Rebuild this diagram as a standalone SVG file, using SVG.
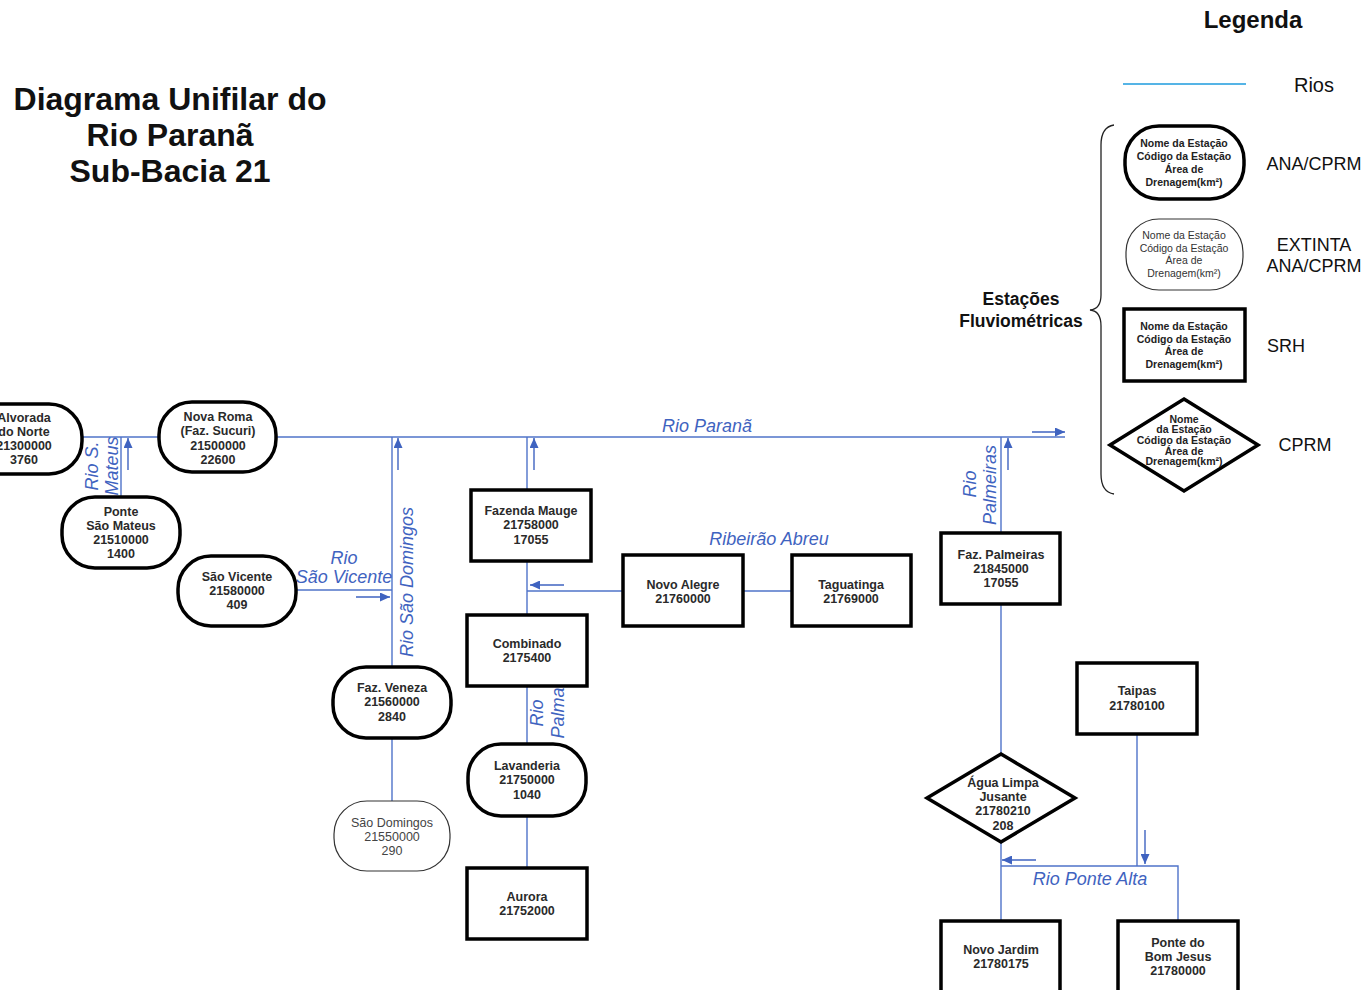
<svg xmlns="http://www.w3.org/2000/svg" width="1368" height="990" viewBox="0 0 1368 990">
<style>
.bg{fill:#ffffff}
.river{stroke:#4f73c9;stroke-width:1.4;fill:none}
.arr{stroke:#3f63c0;stroke-width:1.4;fill:none}
.node{fill:#ffffff;stroke:#000;stroke-width:3.5}
.ext{fill:#ffffff;stroke:#333;stroke-width:1.2}
.nt{font-family:"Liberation Sans",Arial,sans-serif;font-size:12.5px;font-weight:bold;fill:#2a2a2a;text-anchor:middle}
.et{font-family:"Liberation Sans",Arial,sans-serif;font-size:12.5px;fill:#444;text-anchor:middle}
.lt{font-family:"Liberation Sans",Arial,sans-serif;font-size:10.5px;font-weight:bold;fill:#222;text-anchor:middle}
.lte{font-family:"Liberation Sans",Arial,sans-serif;font-size:10.5px;fill:#333;text-anchor:middle}
.rl{font-family:"Liberation Sans",Arial,sans-serif;font-size:18px;font-style:italic;fill:#3f63c0;text-anchor:middle}
.title{font-family:"Liberation Sans",Arial,sans-serif;font-size:32px;font-weight:bold;fill:#111;text-anchor:middle}
.leg{font-family:"Liberation Sans",Arial,sans-serif;font-size:18px;fill:#111;text-anchor:middle}
.legb{font-family:"Liberation Sans",Arial,sans-serif;font-size:17.5px;font-weight:bold;fill:#111;text-anchor:middle}
</style>
<defs>
<marker id="ah" markerUnits="userSpaceOnUse" markerWidth="10" markerHeight="9" refX="10" refY="4.5" orient="auto">
<path d="M0,0 L10,4.5 L0,9 z" fill="#3f63c0"/>
</marker>
</defs>
<rect class="bg" x="0" y="0" width="1368" height="990"/>

<g id="title">
<text class="title" x="170" y="110">Diagrama Unifilar do</text>
<text class="title" x="170" y="146">Rio Paranã</text>
<text class="title" x="170" y="182">Sub-Bacia 21</text>
</g>

<g id="connectors">
<line class="river" x1="82" y1="437" x2="1065" y2="437"/>
<line class="river" x1="121" y1="437" x2="121" y2="497"/>
<line class="river" x1="392" y1="437" x2="392" y2="667"/>
<line class="river" x1="296" y1="590" x2="392" y2="590"/>
<line class="river" x1="392" y1="738" x2="392" y2="801"/>
<line class="river" x1="527" y1="437" x2="527" y2="868"/>
<line class="river" x1="527" y1="591" x2="623" y2="591"/>
<line class="river" x1="743" y1="591" x2="792" y2="591"/>
<line class="river" x1="1001" y1="437" x2="1001" y2="921"/>
<polyline class="river" points="1001,866 1178,866 1178,921"/>
<line class="river" x1="1137" y1="734" x2="1137" y2="866"/>

<line class="arr" x1="1032" y1="432" x2="1065" y2="432" marker-end="url(#ah)"/>
<line class="arr" x1="128" y1="470" x2="128" y2="438" marker-end="url(#ah)"/>
<line class="arr" x1="398" y1="470" x2="398" y2="438" marker-end="url(#ah)"/>
<line class="arr" x1="534" y1="470" x2="534" y2="438" marker-end="url(#ah)"/>
<line class="arr" x1="1008" y1="470" x2="1008" y2="438" marker-end="url(#ah)"/>
<line class="arr" x1="356" y1="597" x2="390" y2="597" marker-end="url(#ah)"/>
<line class="arr" x1="564" y1="585" x2="530" y2="585" marker-end="url(#ah)"/>
<line class="arr" x1="1036" y1="860" x2="1002" y2="860" marker-end="url(#ah)"/>
<line class="arr" x1="1145" y1="830" x2="1145" y2="864" marker-end="url(#ah)"/>

<text class="rl" x="707" y="432">Rio Paranã</text>
<text class="rl" transform="translate(98,466) rotate(-90)">Rio S.</text>
<text class="rl" transform="translate(118,466) rotate(-90)">Mateus</text>
<text class="rl" x="344" y="564">Rio</text>
<text class="rl" x="344" y="583">São Vicente</text>
<text class="rl" transform="translate(413,582) rotate(-90)">Rio São Domingos</text>
<text class="rl" x="769" y="545">Ribeirão Abreu</text>
<text class="rl" transform="translate(543,713) rotate(-90)">Rio</text>
<text class="rl" transform="translate(564,713) rotate(-90)">Palma</text>
<text class="rl" transform="translate(976,484) rotate(-90)">Rio</text>
<text class="rl" transform="translate(996,485) rotate(-90)">Palmeiras</text>
<text class="rl" x="1090" y="885">Rio Ponte Alta</text>
</g>

<g id="alvorada">
<rect class="node" x="-36" y="404" width="118" height="70" rx="33"/>
<text class="nt" x="24" y="422">Alvorada</text>
<text class="nt" x="24" y="436">do Norte</text>
<text class="nt" x="24" y="450">21300000</text>
<text class="nt" x="24" y="464">3760</text>
</g>
<g id="novaroma">
<rect class="node" x="159" y="402" width="117" height="70" rx="33"/>
<text class="nt" x="218" y="421">Nova Roma</text>
<text class="nt" x="218" y="435">(Faz. Sucuri)</text>
<text class="nt" x="218" y="450">21500000</text>
<text class="nt" x="218" y="464">22600</text>
</g>
<g id="pontesaomateus">
<rect class="node" x="62" y="497" width="118" height="71" rx="33"/>
<text class="nt" x="121" y="516">Ponte</text>
<text class="nt" x="121" y="530">São Mateus</text>
<text class="nt" x="121" y="544">21510000</text>
<text class="nt" x="121" y="558">1400</text>
</g>
<g id="saovicente">
<rect class="node" x="178" y="556" width="118" height="70" rx="33"/>
<text class="nt" x="237" y="581">São Vicente</text>
<text class="nt" x="237" y="595">21580000</text>
<text class="nt" x="237" y="609">409</text>
</g>
<g id="fazveneza">
<rect class="node" x="333" y="667" width="118" height="71" rx="33"/>
<text class="nt" x="392" y="692">Faz. Veneza</text>
<text class="nt" x="392" y="706">21560000</text>
<text class="nt" x="392" y="721">2840</text>
</g>
<g id="saodomingos">
<rect class="ext" x="334" y="801" width="116" height="70" rx="33"/>
<text class="et" x="392" y="827">São Domingos</text>
<text class="et" x="392" y="841">21550000</text>
<text class="et" x="392" y="855">290</text>
</g>
<g id="fazendamauge">
<rect class="node" x="471" y="490" width="120" height="71"/>
<text class="nt" x="531" y="515">Fazenda Mauge</text>
<text class="nt" x="531" y="529">21758000</text>
<text class="nt" x="531" y="544">17055</text>
</g>
<g id="novoalegre">
<rect class="node" x="623" y="555" width="120" height="71"/>
<text class="nt" x="683" y="589">Novo Alegre</text>
<text class="nt" x="683" y="603">21760000</text>
</g>
<g id="taguatinga">
<rect class="node" x="792" y="555" width="119" height="71"/>
<text class="nt" x="851" y="589">Taguatinga</text>
<text class="nt" x="851" y="603">21769000</text>
</g>
<g id="combinado">
<rect class="node" x="467" y="615" width="120" height="71"/>
<text class="nt" x="527" y="648">Combinado</text>
<text class="nt" x="527" y="662">2175400</text>
</g>
<g id="lavanderia">
<rect class="node" x="468" y="744" width="118" height="72" rx="33"/>
<text class="nt" x="527" y="770">Lavanderia</text>
<text class="nt" x="527" y="784">21750000</text>
<text class="nt" x="527" y="799">1040</text>
</g>
<g id="aurora">
<rect class="node" x="467" y="868" width="120" height="71"/>
<text class="nt" x="527" y="901">Aurora</text>
<text class="nt" x="527" y="915">21752000</text>
</g>
<g id="fazpalmeiras">
<rect class="node" x="941" y="533" width="119" height="71"/>
<text class="nt" x="1001" y="559">Faz. Palmeiras</text>
<text class="nt" x="1001" y="573">21845000</text>
<text class="nt" x="1001" y="587">17055</text>
</g>
<g id="agualimpa">
<polygon class="node" points="1001,754 1075,798 1001,842 927,798"/>
<text class="nt" x="1003" y="787">Água Limpa</text>
<text class="nt" x="1003" y="801">Jusante</text>
<text class="nt" x="1003" y="815">21780210</text>
<text class="nt" x="1003" y="830">208</text>
</g>
<g id="taipas">
<rect class="node" x="1077" y="663" width="120" height="71"/>
<text class="nt" x="1137" y="695">Taipas</text>
<text class="nt" x="1137" y="710">21780100</text>
</g>
<g id="novojardim">
<rect class="node" x="941" y="921" width="119" height="75"/>
<text class="nt" x="1001" y="954">Novo Jardim</text>
<text class="nt" x="1001" y="968">21780175</text>
</g>
<g id="pontebomjesus">
<rect class="node" x="1118" y="921" width="120" height="75"/>
<text class="nt" x="1178" y="947">Ponte do</text>
<text class="nt" x="1178" y="961">Bom Jesus</text>
<text class="nt" x="1178" y="975">21780000</text>
</g>

<g id="legend">
<text class="legb" x="1253" y="28" style="font-size:24px">Legenda</text>
<line x1="1123" y1="84" x2="1246" y2="84" stroke="#55b4e6" stroke-width="2"/>
<text class="leg" x="1314" y="92" style="font-size:20px">Rios</text>
<path d="M1114,125 Q1101,127 1101,145 L1101,295 Q1101,309 1090,310 Q1101,311 1101,326 L1101,474 Q1101,492 1114,494" fill="none" stroke="#222" stroke-width="1.3"/>
<text class="legb" x="1021" y="305">Estações</text>
<text class="legb" x="1021" y="327">Fluviométricas</text>

<rect class="node" x="1125" y="126" width="119" height="73" rx="34"/>
<text class="lt" x="1184" y="147">Nome da Estação</text>
<text class="lt" x="1184" y="160">Código da Estação</text>
<text class="lt" x="1184" y="173">Área de</text>
<text class="lt" x="1184" y="186">Drenagem(km²)</text>
<text class="leg" x="1314" y="170">ANA/CPRM</text>

<rect class="ext" x="1126" y="219" width="117" height="71" rx="33"/>
<text class="lte" x="1184" y="239">Nome da Estação</text>
<text class="lte" x="1184" y="252">Código da Estação</text>
<text class="lte" x="1184" y="264">Área de</text>
<text class="lte" x="1184" y="277">Drenagem(km²)</text>
<text class="leg" x="1314" y="251">EXTINTA</text>
<text class="leg" x="1314" y="272">ANA/CPRM</text>

<rect class="node" x="1124" y="309" width="121" height="72"/>
<text class="lt" x="1184" y="330">Nome da Estação</text>
<text class="lt" x="1184" y="343">Código da Estação</text>
<text class="lt" x="1184" y="355">Área de</text>
<text class="lt" x="1184" y="368">Drenagem(km²)</text>
<text class="leg" x="1286" y="352">SRH</text>

<polygon class="node" points="1184,399 1258,445 1184,491 1110,445"/>
<text class="lt" x="1184" y="423">Nome</text>
<text class="lt" x="1184" y="433">da Estação</text>
<text class="lt" x="1184" y="444">Código da Estação</text>
<text class="lt" x="1184" y="455">Área de</text>
<text class="lt" x="1184" y="465">Drenagem(km²)</text>
<text class="leg" x="1305" y="451">CPRM</text>
</g>
</svg>
